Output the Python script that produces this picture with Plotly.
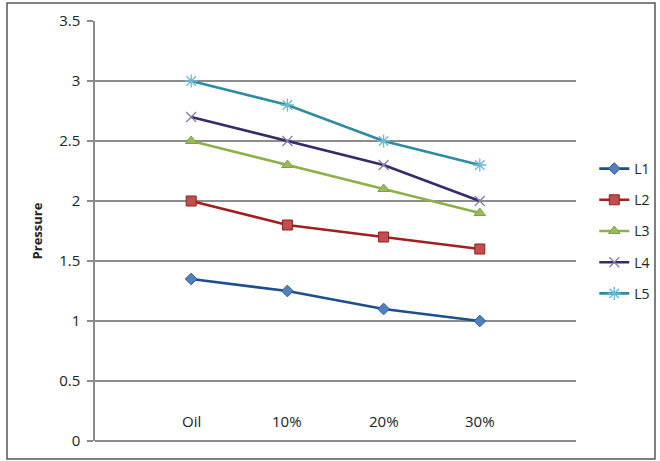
import plotly.graph_objects as go

categories = ["Oil", "10%", "20%", "30%"]
L1 = [1.35, 1.25, 1.1, 1.0]
L2 = [2.0, 1.8, 1.7, 1.6]
L3 = [2.5, 2.3, 2.1, 1.9]
L4 = [2.7, 2.5, 2.3, 2.0]
L5 = [3.0, 2.8, 2.5, 2.3]
series_names = ["L1", "L2", "L3", "L4", "L5"]
y_ticks = [0, 0.5, 1, 1.5, 2, 2.5, 3, 3.5]
y_ticktext = ["0", "0.5", "1", "1.5", "2", "2.5", "3", "3.5"]

xpos = list(range(1, len(categories) + 1))

styles = [
    dict(line="#1F4E8C", marker=dict(symbol="diamond", size=9, color="#4F81BD", line=dict(color="#2C5A96", width=1))),
    dict(line="#A02020", marker=dict(symbol="square", size=10, color="#C0504D", line=dict(color="#8B2020", width=1))),
    dict(line="#8DB14A", marker=dict(symbol="triangle-up", size=10, color="#9BBB59", line=dict(color="#7FA040", width=1))),
    dict(line="#3A2A68", marker=dict(symbol="x-thin-open", size=10, color="#8A7CA8", line=dict(color="#8A7CA8", width=1.3))),
    dict(line="#2E8CA0", marker=dict(symbol="asterisk-open", size=11, color="#6CB8D0", line=dict(color="#6CB8D0", width=1.3))),
]

fig = go.Figure()
for name, vals, st in zip(series_names, [L1, L2, L3, L4, L5], styles):
    fig.add_trace(go.Scatter(
        x=xpos, y=vals, name=name, mode="lines+markers",
        line=dict(color=st["line"], width=2.6),
        marker=st["marker"], legendgroup=name,
    ))

annotations = [dict(x=xp, y=0.17, xref="x", yref="y", text=c, showarrow=False,
                    font=dict(size=15, family="Open Sans, Liberation Sans, sans-serif", color="#222222"))
               for xp, c in zip(xpos, categories)]

fig.update_layout(
    width=660, height=461,
    margin=dict(l=95, r=84, t=21, b=20, autoexpand=False),
    paper_bgcolor="white", plot_bgcolor="white",
    font=dict(family="Open Sans, Liberation Sans, sans-serif", size=15, color="#222222"),
    showlegend=True,
    legend=dict(x=1.038, y=0.5, xanchor="left", yanchor="middle",
                font=dict(size=14), tracegroupgap=10, itemwidth=30,
                bgcolor="rgba(0,0,0,0)"),
    xaxis=dict(range=[0, 5], showticklabels=False, showgrid=False, zeroline=False,
               showline=False, ticks=""),
    yaxis=dict(range=[0, 3.5], tickvals=y_ticks, ticktext=y_ticktext,
               showgrid=True, gridcolor="#8C8C8C", gridwidth=1.5,
               zeroline=True, zerolinecolor="#8C8C8C", zerolinewidth=1.5,
               showline=True, linecolor="#8C8C8C", linewidth=1.5,
               ticks="outside", ticklen=6, tickcolor="#8C8C8C", tickwidth=1.5,
               ticklabelstandoff=4, tickfont=dict(size=15),
               title=dict(text="<b>Pressure</b>", font=dict(size=13), standoff=14)),
    annotations=annotations,
    shapes=[dict(type="rect", xref="paper", yref="paper",
                 x0=-88/481, x1=(655-95)/481, y0=-18/420, y1=1+18/420,
                 line=dict(color="#555555", width=1.5))],
)

fig.write_html("out.html")
